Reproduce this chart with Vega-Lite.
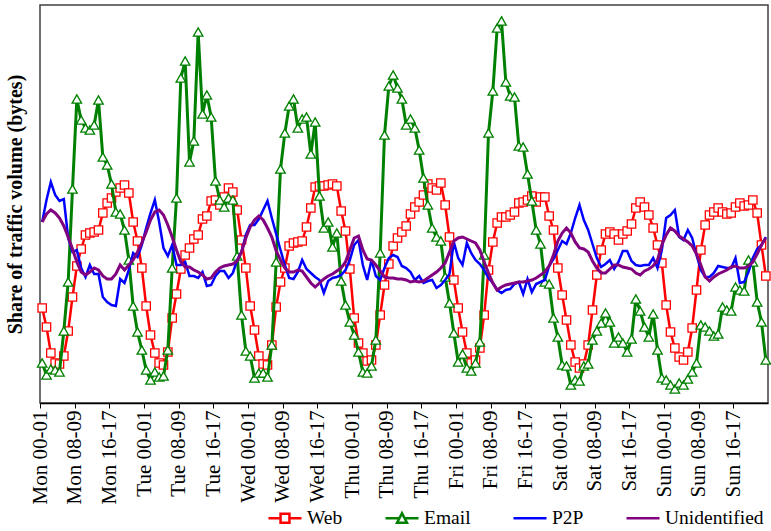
{
  "$schema": "https://vega.github.io/schema/vega-lite/v6.json",
  "autosize": "none",
  "width": 728,
  "height": 398,
  "padding": {"left": 40, "top": 5, "right": 3, "bottom": 128},
  "background": "white",
  "datasets": {
    "web": [
{"t":0.5,"v":95},{"t":1.5,"v":76},{"t":2.5,"v":50},{"t":3.5,"v":40},{"t":4.5,"v":39},{"t":5.5,"v":47},{"t":6.5,"v":72},{"t":7.5,"v":106},{"t":8.5,"v":137},{"t":9.5,"v":154},{"t":10.5,"v":168},{"t":11.5,"v":170},{"t":12.5,"v":171},{"t":13.5,"v":173},{"t":14.5,"v":190},{"t":15.5,"v":200},{"t":16.5,"v":205},{"t":17.5,"v":211},{"t":18.5,"v":215},{"t":19.5,"v":218},{"t":20.5,"v":210},{"t":21.5,"v":181},{"t":22.5,"v":162},{"t":23.5,"v":135},
{"t":24.5,"v":97},{"t":25.5,"v":68},{"t":26.5,"v":50},{"t":27.5,"v":40},{"t":28.5,"v":38},{"t":29.5,"v":51},{"t":30.5,"v":85},{"t":31.5,"v":109},{"t":32.5,"v":134},{"t":33.5,"v":148},{"t":34.5,"v":155},{"t":35.5,"v":164},{"t":36.5,"v":168},{"t":37.5,"v":184},{"t":38.5,"v":187},{"t":39.5,"v":202},{"t":40.5,"v":203},{"t":41.5,"v":198},{"t":42.5,"v":206},{"t":43.5,"v":215},{"t":44.5,"v":211},{"t":45.5,"v":193},{"t":46.5,"v":163},{"t":47.5,"v":135},
{"t":48.5,"v":97},{"t":49.5,"v":73},{"t":50.5,"v":47},{"t":51.5,"v":39},{"t":52.5,"v":38},{"t":53.5,"v":58},{"t":54.5,"v":96},{"t":55.5,"v":121},{"t":56.5,"v":135},{"t":57.5,"v":157},{"t":58.5,"v":160},{"t":59.5,"v":161},{"t":60.5,"v":162},{"t":61.5,"v":176},{"t":62.5,"v":195},{"t":63.5,"v":216},{"t":64.5,"v":217},{"t":65.5,"v":217},{"t":66.5,"v":218},{"t":67.5,"v":219},{"t":68.5,"v":217},{"t":69.5,"v":192},{"t":70.5,"v":172},{"t":71.5,"v":134},
{"t":72.5,"v":85},{"t":73.5,"v":60},{"t":74.5,"v":50},{"t":75.5,"v":42},{"t":76.5,"v":43},{"t":77.5,"v":58},{"t":78.5,"v":88},{"t":79.5,"v":118},{"t":80.5,"v":139},{"t":81.5,"v":157},{"t":82.5,"v":165},{"t":83.5,"v":171},{"t":84.5,"v":177},{"t":85.5,"v":189},{"t":86.5,"v":196},{"t":87.5,"v":201},{"t":88.5,"v":208},{"t":89.5,"v":219},{"t":90.5,"v":215},{"t":91.5,"v":213},{"t":92.5,"v":220},{"t":93.5,"v":198},{"t":94.5,"v":166},{"t":95.5,"v":123},
{"t":96.5,"v":95},{"t":97.5,"v":71},{"t":98.5,"v":50},{"t":99.5,"v":40},{"t":100.5,"v":43},{"t":101.5,"v":55},{"t":102.5,"v":88},{"t":103.5,"v":133},{"t":104.5,"v":161},{"t":105.5,"v":180},{"t":106.5,"v":186},{"t":107.5,"v":186},{"t":108.5,"v":188},{"t":109.5,"v":191},{"t":110.5,"v":200},{"t":111.5,"v":201},{"t":112.5,"v":203},{"t":113.5,"v":207},{"t":114.5,"v":201},{"t":115.5,"v":206},{"t":116.5,"v":206},{"t":117.5,"v":187},{"t":118.5,"v":173},{"t":119.5,"v":135},
{"t":120.5,"v":108},{"t":121.5,"v":83},{"t":122.5,"v":58},{"t":123.5,"v":41},{"t":124.5,"v":35},{"t":125.5,"v":39},{"t":126.5,"v":58},{"t":127.5,"v":93},{"t":128.5,"v":128},{"t":129.5,"v":153},{"t":130.5,"v":169},{"t":131.5,"v":171},{"t":132.5,"v":169},{"t":133.5,"v":163},{"t":134.5,"v":169},{"t":135.5,"v":172},{"t":136.5,"v":179},{"t":137.5,"v":195},{"t":138.5,"v":201},{"t":139.5,"v":196},{"t":140.5,"v":188},{"t":141.5,"v":175},{"t":142.5,"v":158},{"t":143.5,"v":140},
{"t":144.5,"v":98},{"t":145.5,"v":71},{"t":146.5,"v":55},{"t":147.5,"v":46},{"t":148.5,"v":43},{"t":149.5,"v":51},{"t":150.5,"v":75},{"t":151.5,"v":113},{"t":152.5,"v":153},{"t":153.5,"v":178},{"t":154.5,"v":188},{"t":155.5,"v":191},{"t":156.5,"v":195},{"t":157.5,"v":191},{"t":158.5,"v":189},{"t":159.5,"v":190},{"t":160.5,"v":196},{"t":161.5,"v":200},{"t":162.5,"v":197},{"t":163.5,"v":198},{"t":164.5,"v":203},{"t":165.5,"v":190},{"t":166.5,"v":158},{"t":167.5,"v":127}
    ],
    "email": [
{"t":0.5,"v":40},{"t":1.5,"v":28},{"t":2.5,"v":34},{"t":3.5,"v":33},{"t":4.5,"v":31},{"t":5.5,"v":72},{"t":6.5,"v":121},{"t":7.5,"v":214},{"t":8.5,"v":304},{"t":9.5,"v":283},{"t":10.5,"v":275},{"t":11.5,"v":273},{"t":12.5,"v":278},{"t":13.5,"v":303},{"t":14.5,"v":246},{"t":15.5,"v":238},{"t":16.5,"v":219},{"t":17.5,"v":191},{"t":18.5,"v":189},{"t":19.5,"v":173},{"t":20.5,"v":143},{"t":21.5,"v":97},{"t":22.5,"v":71},{"t":23.5,"v":53},
{"t":24.5,"v":33},{"t":25.5,"v":23},{"t":26.5,"v":31},{"t":27.5,"v":26},{"t":28.5,"v":27},{"t":29.5,"v":53},{"t":30.5,"v":135},{"t":31.5,"v":205},{"t":32.5,"v":325},{"t":33.5,"v":342},{"t":34.5,"v":241},{"t":35.5,"v":262},{"t":36.5,"v":371},{"t":37.5,"v":289},{"t":38.5,"v":308},{"t":39.5,"v":286},{"t":40.5,"v":222},{"t":41.5,"v":203},{"t":42.5,"v":196},{"t":43.5,"v":205},{"t":44.5,"v":203},{"t":45.5,"v":147},{"t":46.5,"v":88},{"t":47.5,"v":52},
{"t":48.5,"v":47},{"t":49.5,"v":25},{"t":50.5,"v":30},{"t":51.5,"v":30},{"t":52.5,"v":26},{"t":53.5,"v":58},{"t":54.5,"v":141},{"t":55.5,"v":234},{"t":56.5,"v":270},{"t":57.5,"v":297},{"t":58.5,"v":304},{"t":59.5,"v":275},{"t":60.5,"v":284},{"t":61.5,"v":286},{"t":62.5,"v":249},{"t":63.5,"v":281},{"t":64.5,"v":207},{"t":65.5,"v":175},{"t":66.5,"v":181},{"t":67.5,"v":156},{"t":68.5,"v":170},{"t":69.5,"v":122},{"t":70.5,"v":98},{"t":71.5,"v":81},
{"t":72.5,"v":68},{"t":73.5,"v":51},{"t":74.5,"v":31},{"t":75.5,"v":30},{"t":76.5,"v":37},{"t":77.5,"v":63},{"t":78.5,"v":150},{"t":79.5,"v":268},{"t":80.5,"v":317},{"t":81.5,"v":328},{"t":82.5,"v":315},{"t":83.5,"v":304},{"t":84.5,"v":278},{"t":85.5,"v":284},{"t":86.5,"v":275},{"t":87.5,"v":253},{"t":88.5,"v":225},{"t":89.5,"v":198},{"t":90.5,"v":175},{"t":91.5,"v":166},{"t":92.5,"v":162},{"t":93.5,"v":126},{"t":94.5,"v":100},{"t":95.5,"v":70},
{"t":96.5,"v":41},{"t":97.5,"v":49},{"t":98.5,"v":35},{"t":99.5,"v":32},{"t":100.5,"v":40},{"t":101.5,"v":61},{"t":102.5,"v":148},{"t":103.5,"v":270},{"t":104.5,"v":312},{"t":105.5,"v":375},{"t":106.5,"v":382},{"t":107.5,"v":321},{"t":108.5,"v":307},{"t":109.5,"v":306},{"t":110.5,"v":257},{"t":111.5,"v":256},{"t":112.5,"v":229},{"t":113.5,"v":202},{"t":114.5,"v":173},{"t":115.5,"v":159},{"t":116.5,"v":121},{"t":117.5,"v":119},{"t":118.5,"v":85},{"t":119.5,"v":66},
{"t":120.5,"v":38},{"t":121.5,"v":37},{"t":122.5,"v":18},{"t":123.5,"v":23},{"t":124.5,"v":22},{"t":125.5,"v":37},{"t":126.5,"v":39},{"t":127.5,"v":63},{"t":128.5,"v":72},{"t":129.5,"v":80},{"t":130.5,"v":90},{"t":131.5,"v":81},{"t":132.5,"v":60},{"t":133.5,"v":66},{"t":134.5,"v":60},{"t":135.5,"v":51},{"t":136.5,"v":64},{"t":137.5,"v":104},{"t":138.5,"v":92},{"t":139.5,"v":76},{"t":140.5,"v":66},{"t":141.5,"v":89},{"t":142.5,"v":53},{"t":143.5,"v":25},
{"t":144.5,"v":23},{"t":145.5,"v":18},{"t":146.5,"v":14},{"t":147.5,"v":20},{"t":148.5,"v":18},{"t":149.5,"v":24},{"t":150.5,"v":31},{"t":151.5,"v":40},{"t":152.5,"v":78},{"t":153.5,"v":76},{"t":154.5,"v":72},{"t":155.5,"v":67},{"t":156.5,"v":69},{"t":157.5,"v":96},{"t":158.5,"v":93},{"t":159.5,"v":92},{"t":160.5,"v":116},{"t":161.5,"v":113},{"t":162.5,"v":112},{"t":163.5,"v":143},{"t":164.5,"v":141},{"t":165.5,"v":101},{"t":166.5,"v":81},{"t":167.5,"v":43}
    ],
    "p2p": [
{"t":0.5,"v":181},{"t":1.5,"v":203},{"t":2.5,"v":221},{"t":3.5,"v":208},{"t":4.5,"v":202},{"t":5.5,"v":204},{"t":6.5,"v":165},{"t":7.5,"v":151},{"t":8.5,"v":153},{"t":9.5,"v":135},{"t":10.5,"v":126},{"t":11.5,"v":138},{"t":12.5,"v":129},{"t":13.5,"v":129},{"t":14.5,"v":106},{"t":15.5,"v":101},{"t":16.5,"v":98},{"t":17.5,"v":97},{"t":18.5,"v":124},{"t":19.5,"v":120},{"t":20.5,"v":133},{"t":21.5,"v":150},{"t":22.5,"v":146},{"t":23.5,"v":158},
{"t":24.5,"v":175},{"t":25.5,"v":190},{"t":26.5,"v":203},{"t":27.5,"v":181},{"t":28.5,"v":155},{"t":29.5,"v":147},{"t":30.5,"v":158},{"t":31.5,"v":138},{"t":32.5,"v":138},{"t":33.5,"v":141},{"t":34.5,"v":127},{"t":35.5,"v":127},{"t":36.5,"v":125},{"t":37.5,"v":131},{"t":38.5,"v":117},{"t":39.5,"v":118},{"t":40.5,"v":127},{"t":41.5,"v":132},{"t":42.5,"v":132},{"t":43.5,"v":125},{"t":44.5,"v":130},{"t":45.5,"v":143},{"t":46.5,"v":151},{"t":47.5,"v":168},
{"t":48.5,"v":178},{"t":49.5,"v":178},{"t":50.5,"v":184},{"t":51.5,"v":193},{"t":52.5,"v":202},{"t":53.5,"v":185},{"t":54.5,"v":169},{"t":55.5,"v":153},{"t":56.5,"v":138},{"t":57.5,"v":125},{"t":58.5,"v":124},{"t":59.5,"v":131},{"t":60.5,"v":143},{"t":61.5,"v":134},{"t":62.5,"v":130},{"t":63.5,"v":126},{"t":64.5,"v":123},{"t":65.5,"v":110},{"t":66.5,"v":122},{"t":67.5,"v":125},{"t":68.5,"v":126},{"t":69.5,"v":128},{"t":70.5,"v":133},{"t":71.5,"v":143},
{"t":72.5,"v":158},{"t":73.5,"v":163},{"t":74.5,"v":138},{"t":75.5,"v":123},{"t":76.5,"v":143},{"t":77.5,"v":127},{"t":78.5,"v":123},{"t":79.5,"v":135},{"t":80.5,"v":145},{"t":81.5,"v":148},{"t":82.5,"v":146},{"t":83.5,"v":137},{"t":84.5,"v":135},{"t":85.5,"v":131},{"t":86.5,"v":123},{"t":87.5,"v":127},{"t":88.5,"v":120},{"t":89.5,"v":122},{"t":90.5,"v":123},{"t":91.5,"v":115},{"t":92.5,"v":118},{"t":93.5,"v":123},{"t":94.5,"v":129},{"t":95.5,"v":161},
{"t":96.5,"v":145},{"t":97.5,"v":138},{"t":98.5,"v":160},{"t":99.5,"v":150},{"t":100.5,"v":143},{"t":101.5,"v":139},{"t":102.5,"v":133},{"t":103.5,"v":125},{"t":104.5,"v":120},{"t":105.5,"v":113},{"t":106.5,"v":110},{"t":107.5,"v":113},{"t":108.5,"v":114},{"t":109.5,"v":119},{"t":110.5,"v":121},{"t":111.5,"v":109},{"t":112.5,"v":124},{"t":113.5,"v":111},{"t":114.5,"v":119},{"t":115.5,"v":121},{"t":116.5,"v":123},{"t":117.5,"v":137},{"t":118.5,"v":144},{"t":119.5,"v":153},
{"t":120.5,"v":162},{"t":121.5,"v":159},{"t":122.5,"v":170},{"t":123.5,"v":185},{"t":124.5,"v":198},{"t":125.5,"v":183},{"t":126.5,"v":173},{"t":127.5,"v":159},{"t":128.5,"v":145},{"t":129.5,"v":136},{"t":130.5,"v":139},{"t":131.5,"v":143},{"t":132.5,"v":134},{"t":133.5,"v":141},{"t":134.5,"v":152},{"t":135.5,"v":152},{"t":136.5,"v":142},{"t":137.5,"v":138},{"t":138.5,"v":137},{"t":139.5,"v":138},{"t":140.5,"v":138},{"t":141.5,"v":145},{"t":142.5,"v":135},{"t":143.5,"v":153},
{"t":144.5,"v":185},{"t":145.5,"v":188},{"t":146.5,"v":193},{"t":147.5,"v":166},{"t":148.5,"v":163},{"t":149.5,"v":173},{"t":150.5,"v":165},{"t":151.5,"v":148},{"t":152.5,"v":133},{"t":153.5,"v":126},{"t":154.5,"v":126},{"t":155.5,"v":130},{"t":156.5,"v":137},{"t":157.5,"v":136},{"t":158.5,"v":135},{"t":159.5,"v":135},{"t":160.5,"v":145},{"t":161.5,"v":120},{"t":162.5,"v":121},{"t":163.5,"v":131},{"t":164.5,"v":145},{"t":165.5,"v":154},{"t":166.5,"v":158},{"t":167.5,"v":166}
    ],
    "unid": [
{"t":0.5,"v":181},{"t":1.5,"v":189},{"t":2.5,"v":193},{"t":3.5,"v":190},{"t":4.5,"v":185},{"t":5.5,"v":177},{"t":6.5,"v":166},{"t":7.5,"v":154},{"t":8.5,"v":141},{"t":9.5,"v":131},{"t":10.5,"v":128},{"t":11.5,"v":131},{"t":12.5,"v":135},{"t":13.5,"v":133},{"t":14.5,"v":127},{"t":15.5,"v":124},{"t":16.5,"v":124},{"t":17.5,"v":129},{"t":18.5,"v":138},{"t":19.5,"v":133},{"t":20.5,"v":138},{"t":21.5,"v":143},{"t":22.5,"v":151},{"t":23.5,"v":160},
{"t":24.5,"v":171},{"t":25.5,"v":183},{"t":26.5,"v":191},{"t":27.5,"v":193},{"t":28.5,"v":188},{"t":29.5,"v":178},{"t":30.5,"v":166},{"t":31.5,"v":153},{"t":32.5,"v":141},{"t":33.5,"v":136},{"t":34.5,"v":136},{"t":35.5,"v":133},{"t":36.5,"v":131},{"t":37.5,"v":128},{"t":38.5,"v":124},{"t":39.5,"v":125},{"t":40.5,"v":131},{"t":41.5,"v":135},{"t":42.5,"v":137},{"t":43.5,"v":138},{"t":44.5,"v":139},{"t":45.5,"v":142},{"t":46.5,"v":151},{"t":47.5,"v":165},
{"t":48.5,"v":176},{"t":49.5,"v":183},{"t":50.5,"v":187},{"t":51.5,"v":183},{"t":52.5,"v":175},{"t":53.5,"v":166},{"t":54.5,"v":152},{"t":55.5,"v":143},{"t":56.5,"v":135},{"t":57.5,"v":131},{"t":58.5,"v":131},{"t":59.5,"v":133},{"t":60.5,"v":132},{"t":61.5,"v":126},{"t":62.5,"v":120},{"t":63.5,"v":116},{"t":64.5,"v":120},{"t":65.5,"v":124},{"t":66.5,"v":127},{"t":67.5,"v":129},{"t":68.5,"v":132},{"t":69.5,"v":135},{"t":70.5,"v":141},{"t":71.5,"v":153},
{"t":72.5,"v":165},{"t":73.5,"v":167},{"t":74.5,"v":153},{"t":75.5,"v":144},{"t":76.5,"v":143},{"t":77.5,"v":138},{"t":78.5,"v":132},{"t":79.5,"v":126},{"t":80.5,"v":125},{"t":81.5,"v":125},{"t":82.5,"v":124},{"t":83.5,"v":124},{"t":84.5,"v":123},{"t":85.5,"v":121},{"t":86.5,"v":122},{"t":87.5,"v":121},{"t":88.5,"v":122},{"t":89.5,"v":125},{"t":90.5,"v":128},{"t":91.5,"v":131},{"t":92.5,"v":135},{"t":93.5,"v":140},{"t":94.5,"v":151},{"t":95.5,"v":162},
{"t":96.5,"v":165},{"t":97.5,"v":166},{"t":98.5,"v":164},{"t":99.5,"v":162},{"t":100.5,"v":160},{"t":101.5,"v":153},{"t":102.5,"v":141},{"t":103.5,"v":130},{"t":104.5,"v":120},{"t":105.5,"v":113},{"t":106.5,"v":116},{"t":107.5,"v":118},{"t":108.5,"v":119},{"t":109.5,"v":120},{"t":110.5,"v":121},{"t":111.5,"v":121},{"t":112.5,"v":122},{"t":113.5,"v":123},{"t":114.5,"v":125},{"t":115.5,"v":128},{"t":116.5,"v":131},{"t":117.5,"v":137},{"t":118.5,"v":148},{"t":119.5,"v":162},
{"t":120.5,"v":170},{"t":121.5,"v":175},{"t":122.5,"v":170},{"t":123.5,"v":161},{"t":124.5,"v":155},{"t":125.5,"v":154},{"t":126.5,"v":151},{"t":127.5,"v":142},{"t":128.5,"v":135},{"t":129.5,"v":130},{"t":130.5,"v":130},{"t":131.5,"v":134},{"t":132.5,"v":138},{"t":133.5,"v":138},{"t":134.5,"v":136},{"t":135.5,"v":135},{"t":136.5,"v":134},{"t":137.5,"v":130},{"t":138.5,"v":128},{"t":139.5,"v":132},{"t":140.5,"v":134},{"t":141.5,"v":137},{"t":142.5,"v":143},{"t":143.5,"v":158},
{"t":144.5,"v":168},{"t":145.5,"v":175},{"t":146.5,"v":172},{"t":147.5,"v":167},{"t":148.5,"v":164},{"t":149.5,"v":161},{"t":150.5,"v":157},{"t":151.5,"v":149},{"t":152.5,"v":138},{"t":153.5,"v":126},{"t":154.5,"v":122},{"t":155.5,"v":126},{"t":156.5,"v":129},{"t":157.5,"v":131},{"t":158.5,"v":133},{"t":159.5,"v":136},{"t":160.5,"v":137},{"t":161.5,"v":135},{"t":162.5,"v":135},{"t":163.5,"v":137},{"t":164.5,"v":141},{"t":165.5,"v":149},{"t":166.5,"v":158},{"t":167.5,"v":165}
    ]
  },
  "encoding": {
    "x": {
      "field": "t", "type": "quantitative",
      "scale": {"domain": [0, 168], "nice": false, "zero": false},
      "axis": {
        "values": [0, 8, 16, 24, 32, 40, 48, 56, 64, 72, 80, 88, 96, 104, 112, 120, 128, 136, 144, 152, 160],
        "labelExpr": "['Mon','Tue','Wed','Thu','Fri','Sat','Sun'][floor(datum.value/24)] + ' ' + ['00-01','08-09','16-17'][floor((datum.value%24)/8)]",
        "labelAngle": -90, "labelAlign": "right", "labelBaseline": "middle",
        "labelFont": "Liberation Serif", "labelFontSize": 21, "labelColor": "#000",
        "labelPadding": 2, "labelOverlap": false, "labelFlush": false, "labelBound": false,
        "tickSize": 5, "tickColor": "#000", "tickWidth": 1,
        "domainColor": "#000", "domainWidth": 1.5,
        "grid": false, "title": null
      }
    },
    "y": {
      "field": "v", "type": "quantitative",
      "scale": {"domain": [0, 398], "nice": false, "zero": false},
      "axis": {
        "title": "Share of traffic volume (bytes)",
        "titleFont": "Liberation Serif", "titleFontSize": 20, "titleFontWeight": "bold", "titleColor": "#000",
        "titlePadding": 15,
        "labels": false, "ticks": false, "domain": false, "grid": false
      }
    }
  },
  "layer": [
    {
      "data": {"values": [{"t": 24}, {"t": 48}, {"t": 72}, {"t": 96}, {"t": 120}, {"t": 144}]},
      "mark": {"type": "rule", "color": "#000", "strokeWidth": 1.2, "strokeDash": [7, 5]},
      "encoding": {"y": {"datum": 0}, "y2": {"datum": 398}}
    },
    {
      "data": {"name": "web"},
      "mark": {"type": "line", "strokeWidth": 2.5},
      "encoding": {
        "color": {
          "datum": "Web", "type": "nominal",
          "scale": {"domain": ["Web", "Email", "P2P", "Unidentified"], "range": ["#FF0000", "#008000", "#0000FF", "#800080"]},
          "legend": {
            "orient": "none", "legendX": 227, "legendY": 495, "direction": "horizontal", "columns": 4,
            "title": null, "padding": 0,
            "labelFont": "Liberation Serif", "labelFontSize": 19.5, "labelColor": "#000", "labelOffset": 4,
            "columnPadding": 37, "symbolType": "stroke", "symbolSize": 1089, "symbolStrokeWidth": 2.5,
            "encode": {
              "symbols": {
                "update": {
                  "shape": {"signal": "datum.value === 'Web' ? 'M-1,0H-0.27M0.27,0H1M-0.27,-0.27H0.27V0.27H-0.27Z' : datum.value === 'Email' ? 'M-1,0H-0.16M0.16,0H1M-0.3,0.27L0.3,0.27L0,-0.3Z' : 'stroke'"},
                  "fill": {"value": "white"},
                  "strokeWidth": {"value": 2.5}
                }
              }
            }
          }
        }
      }
    },
    {
      "data": {"name": "web"},
      "mark": {"type": "point", "shape": "square", "size": 70, "filled": true, "fill": "white", "stroke": "#FF0000", "strokeWidth": 1.3, "opacity": 1}
    },
    {
      "data": {"name": "email"},
      "mark": {"type": "line", "strokeWidth": 3},
      "encoding": {
        "color": {
          "datum": "Email", "type": "nominal",
          "scale": {"domain": ["Web", "Email", "P2P", "Unidentified"], "range": ["#FF0000", "#008000", "#0000FF", "#800080"]}
        }
      }
    },
    {
      "data": {"name": "email"},
      "mark": {"type": "point", "shape": "triangle-up", "size": 90, "filled": true, "fill": "white", "stroke": "#008000", "strokeWidth": 1.3, "opacity": 1}
    },
    {
      "data": {"name": "p2p"},
      "mark": {"type": "line", "strokeWidth": 2.5},
      "encoding": {
        "color": {
          "datum": "P2P", "type": "nominal",
          "scale": {"domain": ["Web", "Email", "P2P", "Unidentified"], "range": ["#FF0000", "#008000", "#0000FF", "#800080"]}
        }
      }
    },
    {
      "data": {"name": "unid"},
      "mark": {"type": "line", "strokeWidth": 3},
      "encoding": {
        "color": {
          "datum": "Unidentified", "type": "nominal",
          "scale": {"domain": ["Web", "Email", "P2P", "Unidentified"], "range": ["#FF0000", "#008000", "#0000FF", "#800080"]}
        }
      }
    }
  ],
  "config": {
    "font": "Liberation Serif",
    "view": {"stroke": "#404040", "strokeWidth": 1.5},
    "legend": {"labelFont": "Liberation Serif", "labelColor": "#000", "labelLimit": 0}
  }
}
